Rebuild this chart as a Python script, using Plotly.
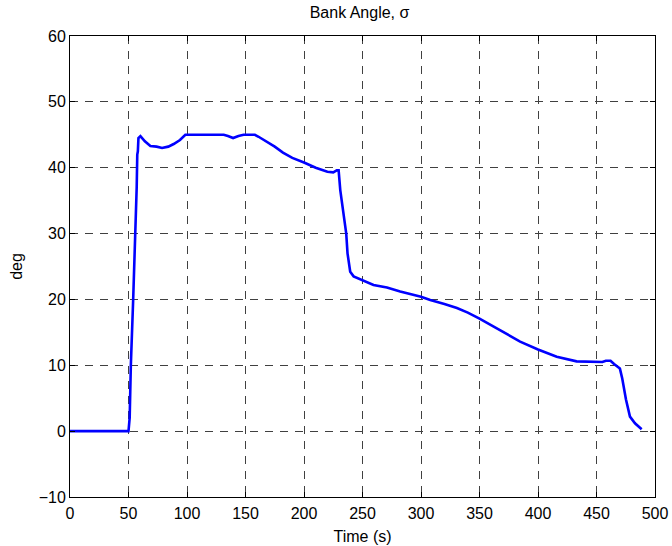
import plotly.graph_objects as go

# Bank angle history (time in s, angle in deg)
time_s = [0, 10, 20, 30, 40, 50, 51, 52, 54, 56, 56.5, 57, 57.5, 58, 58.5, 59.5, 60.2,
          64, 68.7, 74, 78.7, 84, 88.6, 94, 98.6, 110, 120, 131.4, 135, 139.4, 144, 148.4,
          155, 158, 161.2, 168, 175, 182, 190, 200, 210, 220, 225, 228, 229.6, 231,
          233.8, 236.1, 237.2, 239.5, 242.4, 249.5, 259.4, 270.9, 282.2, 300, 307.9,
          320, 330.7, 340, 350, 364.8, 375, 384.7, 400, 416, 433, 445, 455, 458, 462,
          465, 468, 470, 472, 475.2, 478.6, 482.9, 488.6]
bank_deg = [0, 0, 0, 0, 0, 0, 2, 10, 20, 30, 32, 37, 42, 42.5, 44.5, 44.8, 44.8,
            44.0, 43.3, 43.2, 43.0, 43.2, 43.6, 44.2, 45.0, 45.0, 45.0, 45.0, 44.8, 44.5, 44.8, 45.0,
            45.0, 45.0, 44.7, 44.0, 43.2, 42.3, 41.5, 40.8, 40.0, 39.4, 39.3, 39.6, 39.6, 36.6,
            33.1, 30.0, 27.0, 24.2, 23.5, 23.0, 22.2, 21.8, 21.2, 20.4, 19.9,
            19.3, 18.7, 18.0, 17.1, 15.6, 14.6, 13.6, 12.4, 11.3, 10.6, 10.5, 10.5, 10.7, 10.7,
            10.2, 9.8, 9.5, 8.0, 4.8, 2.2, 1.2, 0.3]

x_ticks = [0, 50, 100, 150, 200, 250, 300, 350, 400, 450, 500]
y_ticks = [-10, 0, 10, 20, 30, 40, 50, 60]

fig = go.Figure(go.Scatter(x=time_s, y=bank_deg, mode="lines",
                           line=dict(color="#0000ff", width=2.6)))

axis_common = dict(
    showline=True, linecolor="black", linewidth=1, mirror="ticks",
    ticks="inside", ticklen=5, tickcolor="black",
    showgrid=True, gridcolor="#404040", gridwidth=1, griddash="8px,7px",
    zeroline=False, tickfont=dict(size=16, color="black"), automargin=False,
)

fig.update_layout(
    width=672, height=546,
    margin=dict(l=70, r=17, t=36, b=49),
    paper_bgcolor="white", plot_bgcolor="white",
    font=dict(family="Liberation Sans, Arial, sans-serif", color="black", size=16),
    title=dict(text="Bank Angle, σ", x=0.535, xanchor="center", y=0.978, yanchor="middle",
               font=dict(size=16)),
    showlegend=False,
    xaxis=dict(range=[0, 500], tickvals=x_ticks, ticklabelstandoff=2,
               title=dict(text="Time (s)", standoff=9, font=dict(size=16)),
               **axis_common),
    yaxis=dict(range=[-10, 60], tickvals=y_ticks,
               title=dict(text="deg", standoff=12, font=dict(size=16)),
               **axis_common),
)

fig.write_html("out.html")
